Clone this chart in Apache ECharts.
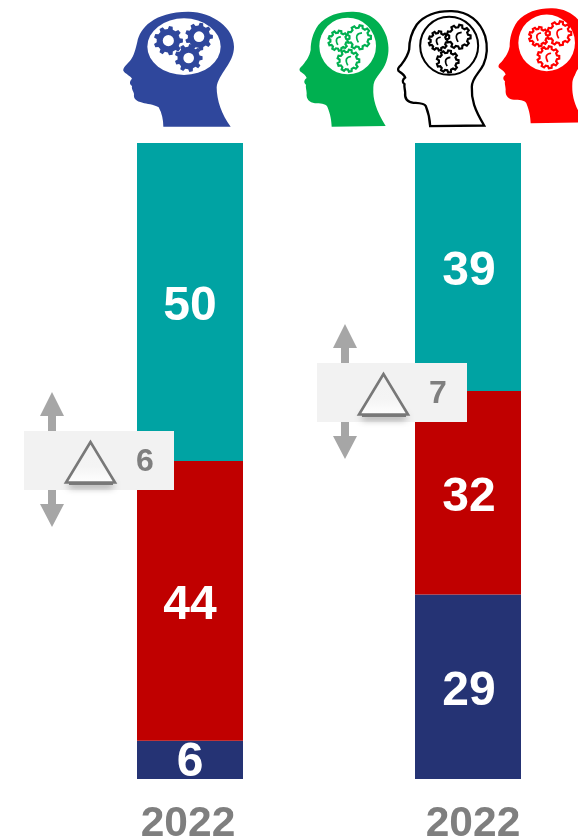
<!DOCTYPE html>
<html><head><meta charset="utf-8">
<style>html,body{margin:0;padding:0;background:#fff;overflow:hidden}#c{width:578px;height:837px}</style>
<script src="https://cdn.jsdelivr.net/npm/echarts@6/dist/echarts.min.js"></script>
</head><body><div id="c"></div>
<script>
const categories = ['2022', '2022'];
const teal = [50, 39];
const red = [44, 32];
const navy = [6, 29];
const deltas = [6, 7];

const FONT = '"Liberation Sans", Arial, sans-serif';
const HEAD = 'M125 380 C124 360 122 345 112 320 C106 310 90 311 75 310 C58 308 48 298 50 280 C50 270 46 262 48 254 C40 248 42 240 50 234 C48 226 40 222 30 214 C26 208 30 203 38 196 C50 180 58 170 62 150 C62 125 68 100 85 75 C110 45 150 34 190 35 C240 36 275 65 290 110 C298 140 298 165 285 195 C272 222 250 235 250 262 C248 300 258 330 287 378 Z';

let shapeId = 0;
function pathType(d) {
  const name = 'decor' + (shapeId++);
  echarts.graphic.registerShape(name, echarts.graphic.extendPath(d, {}));
  return name;
}
function ellipseD(cx, cy, rx, ry) {
  return `M${cx - rx} ${cy} A${rx} ${ry} 0 1 1 ${cx + rx} ${cy} A${rx} ${ry} 0 1 1 ${cx - rx} ${cy} Z`;
}
function gear(cx, cy, r, teeth) {
  const n = teeth || 8, ri = r * 0.8;
  let d = '';
  for (let i = 0; i < n; i++) {
    const a = (i / n) * Math.PI * 2, w = Math.PI / n;
    const pts = [[ri, a - w * 0.62], [r, a - w * 0.36], [r, a + w * 0.36], [ri, a + w * 0.62]];
    pts.forEach((q, k) => {
      d += ((i === 0 && k === 0) ? 'M' : 'L') + (cx + q[0] * Math.cos(q[1])).toFixed(1) + ' ' + (cy + q[0] * Math.sin(q[1])).toFixed(1) + ' ';
    });
  }
  return d + 'Z';
}
function arcC(cx, cy, r) {
  const x1 = cx + r * 0.5, y1 = cy - r * 0.75, x2 = cx - r * 0.1, y2 = cy + r * 0.85;
  return `M${x1} ${y1} Q${cx - r * 0.9} ${cy - r * 0.6} ${x2} ${y2}`;
}
function p(d, ox, oy, sx, sy, style) {
  return { type: pathType(d), x: ox, y: oy, scaleX: sx, scaleY: sy, style: style, silent: true };
}
function outlineHead(ox, oy, sx, color, circle, gears, black) {
  const s = 1 / 3, out = [];
  out.push(p(HEAD, ox, oy, sx, s, black ? { fill: '#fff', stroke: '#000', lineWidth: 7 } : { fill: color }));
  out.push({ type: 'circle', x: ox, y: oy, scaleX: s, scaleY: s, shape: { cx: circle[0], cy: circle[1], r: circle[2] },
    style: black ? { fill: '#fff', stroke: '#000', lineWidth: 6 } : { fill: '#fff' }, silent: true });
  gears.forEach(g => {
    out.push(p(gear(g[0], g[1], g[2], 9), ox, oy, s, s, { fill: '#fff', stroke: color, lineWidth: 6.5 }));
    out.push(p(arcC(g[0], g[1], g[2] * 0.5), ox, oy, s, s, { fill: null, stroke: color, lineWidth: 5 }));
  });
  return out;
}
function blueHead() {
  const c = '#2f479c', s = 1 / 3, ox = 110, oy = 0, out = [];
  const d = 'M160 380 C160 360 156 340 146 322 C130 312 110 312 98 308 C78 304 70 296 72 282 C70 272 64 268 66 258 C58 252 58 244 66 236 C60 226 46 222 40 212 C38 204 50 194 62 180 C72 166 76 150 82 125 C90 85 130 36 235 35 C310 36 372 85 372 140 C372 190 325 220 320 262 C320 300 335 345 362 380 Z';
  out.push(p(d, ox, oy, s, s, { fill: c }));
  out.push(p(ellipseD(222, 140, 110, 85), ox, oy, s, s, { fill: '#fff' }));
  [[175, 122, 44], [267, 110, 42], [236, 174, 42]].forEach(g => {
    out.push(p(gear(g[0], g[1], g[2], 9), ox, oy, s, s, { fill: c }));
    out.push({ type: 'circle', x: ox, y: oy, scaleX: s, scaleY: s, shape: { cx: g[0], cy: g[1], r: g[2] * 0.38 }, style: { fill: '#fff' }, silent: true });
  });
  return out;
}
function deltaBox(x, y, val) {
  const ax = x + 28, gray = '#a6a6a6', out = [];
  const up = `M${ax} ${y - 39} L${ax + 12} ${y - 15} L${ax + 4} ${y - 15} L${ax + 4} ${y} L${ax - 4} ${y} L${ax - 4} ${y - 15} L${ax - 12} ${y - 15} Z`;
  const dn = `M${ax} ${y + 96} L${ax + 12} ${y + 73} L${ax + 4} ${y + 73} L${ax + 4} ${y + 59} L${ax - 4} ${y + 59} L${ax - 4} ${y + 73} L${ax - 12} ${y + 73} Z`;
  out.push(p(up, 0, 0, 1, 1, { fill: gray }));
  out.push(p(dn, 0, 0, 1, 1, { fill: gray }));
  out.push({ type: 'rect', shape: { x: x, y: y, width: 150, height: 59 }, style: { fill: '#f2f2f2' }, silent: true });
  out.push({ type: 'rect', shape: { x: x + 45, y: y + 51, width: 44, height: 3 }, style: { fill: '#7a7a7a', shadowBlur: 7, shadowColor: '#666', shadowOffsetY: 2 }, silent: true });
  out.push({ type: 'polygon', shape: { points: [[x + 66.5, y + 11], [x + 42, y + 51.5], [x + 91, y + 51.5]] },
    style: { fill: new echarts.graphic.LinearGradient(0, 0, 0, 1, [{ offset: 0, color: '#f2f2f2' }, { offset: 0.6, color: '#f4f4f4' }, { offset: 1, color: '#fff' }]), stroke: '#787878', lineWidth: 2.6, lineJoin: 'miter' }, silent: true });
  out.push({ type: 'text', x: x + 121, y: y + 31, style: { text: String(val), fill: '#7f7f7f', font: 'bold 32px ' + FONT, align: 'center', verticalAlign: 'middle' }, silent: true });
  return out;
}

const greenGears = [[145, 122, 30], [207, 112, 36], [175, 182, 33]];
const blackGears = [[445, 124, 29], [506, 112, 36], [473, 186, 33]];
const redGears = [[746, 110, 29], [808, 100, 36], [775, 172, 33]];
const headEls = [].concat(
  blueHead(),
  outlineHead(290, 0, 1 / 3, '#00b050', [173, 138, 85], greenGears, false),
  outlineHead(290 + 98.5, -0.5, 1 / 3, '#000', [182, 139, 87], blackGears.map(g => [g[0] - 295.5, g[1], g[2]]), true),
  outlineHead(290 + 199, -3.5, 1 / 3, '#ff0000', [173, 139, 85], redGears.map(g => [g[0] - 597, g[1] + 10.5, g[2]]), false),
  [p(ellipseD(580, 85, 6, 17), 0, 0, 1, 1, { fill: '#fff' })]
);
const els = headEls.concat(deltaBox(24, 431, deltas[0]), deltaBox(317, 363, deltas[1]));

function series(name, data, color, offs) {
  return {
    name, type: 'bar', stack: 'a', barWidth: 106,
    data: data.map((v, i) => ({ value: v, label: { offset: offs[i] } })),
    itemStyle: { color },
    label: { show: true, position: 'inside', color: '#fff', fontFamily: FONT, fontWeight: 'bold', fontSize: 48 },
    emphasis: { disabled: true }, animation: false
  };
}
const chart = echarts.init(document.getElementById('c'), null, { renderer: 'canvas' });
chart.setOption({
  animation: false,
  backgroundColor: '#fff',
  tooltip: { show: false },
  grid: { left: 51, top: 143, width: 556, height: 636, outerBoundsMode: 'none' },
  xAxis: {
    type: 'category',
    data: [
      { value: categories[0], textStyle: { padding: [0, 4, 0, 0] } },
      { value: categories[1], textStyle: { padding: [0, 0, 0, 10] } }
    ],
    axisLine: { show: false }, axisTick: { show: false },
    axisLabel: { interval: 0, margin: 24, color: '#7f7f7f', fontFamily: FONT, fontWeight: 'bold', fontSize: 42.5 }
  },
  yAxis: { type: 'value', min: 0, max: 100, show: false, splitLine: { show: false } },
  series: [
    series('Navy', navy, '#253374', [[0, 3], [1, 5]]),
    series('Red', red, '#c00000', [[0, 5], [1, 5]]),
    series('Teal', teal, '#00a3a3', [[0, 5], [1, 5]])
  ],
  graphic: { elements: els.map(e => Object.assign({ z: 100 }, e)) }
});
</script></body></html>
